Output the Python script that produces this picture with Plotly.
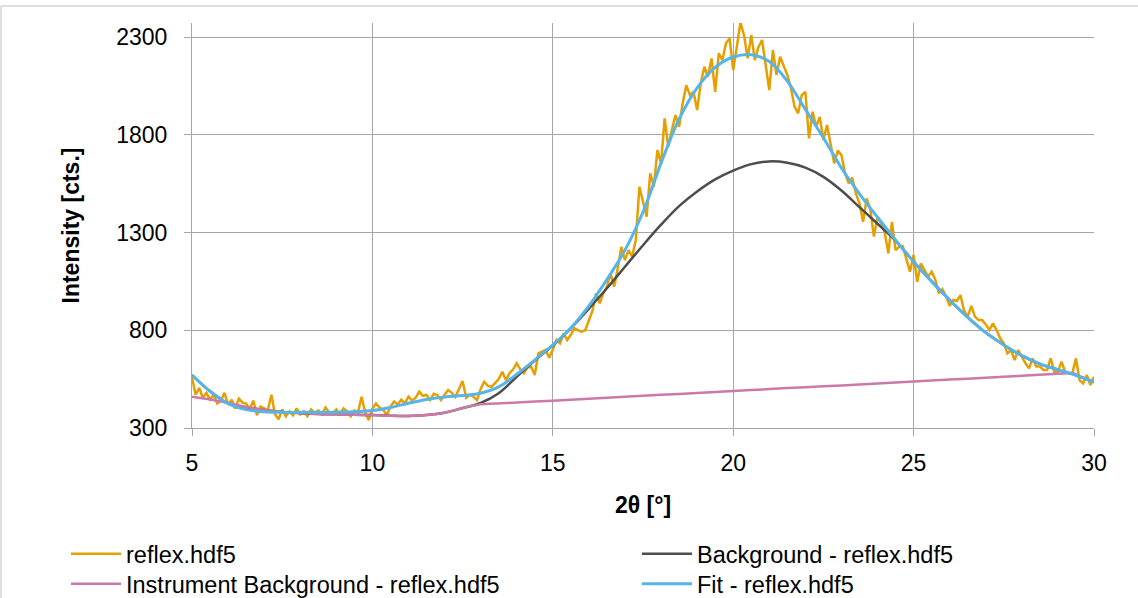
import plotly.graph_objects as go

# ---------------- data ----------------
THETA_START = 5.0
THETA_STEP = 0.1

reflex_counts = [
    560, 470, 505, 455, 480, 445, 470, 425, 440, 480,      # 5.0 - 5.9
    420, 445, 400, 450, 430, 425, 395, 440, 365, 410,      # 6
    400, 390, 470, 370, 345, 395, 360, 385, 365, 400,      # 7
    370, 385, 360, 395, 375, 390, 370, 405, 380, 375,      # 8
    395, 370, 400, 385, 360, 390, 380, 460, 380, 340,      # 9
    400, 425, 405, 392, 366, 410, 435, 420, 445, 426,      # 10
    460, 440, 455, 486, 465, 469, 443, 475, 469, 443,      # 11
    470, 494, 480, 460, 500, 540, 455, 470, 460, 443,      # 12
    500, 537, 515, 511, 530, 550, 588, 545, 580, 600,      # 13
    631, 600, 580, 610, 614, 571, 682, 690, 699, 660,      # 14
    700, 750, 733, 784, 750, 776, 810, 800, 793, 800,      # 15
    850, 900, 989, 938, 989, 1023, 1091, 1023, 1117, 1227, # 16
    1159, 1210, 1176, 1262, 1534, 1449, 1381, 1603, 1534, 1722,  # 17
    1654, 1884, 1739, 1824, 1901, 1841, 1961, 2054, 2003, 2020,  # 18
    1927, 2063, 2148, 2097, 2191, 2020, 2217, 2182, 2268, 2293,  # 19
    2131, 2250, 2375, 2310, 2191, 2310, 2182, 2250, 2285, 2157,  # 20
    2029, 2233, 2106, 2199, 2157, 2106, 2040, 1944, 1910, 2003,  # 21
    2020, 1782, 1918, 1841, 1892, 1773, 1850, 1756, 1654, 1720,  # 22
    1696, 1603, 1552, 1580, 1500, 1449, 1355, 1475, 1420, 1279,  # 23
    1381, 1347, 1300, 1194, 1355, 1210, 1227, 1230, 1160, 1100,  # 24
    1185, 1048, 1142, 1110, 1074, 1100, 1060, 989, 1010, 972,    # 25
    925, 955, 950, 980, 900, 869, 925, 870, 852, 852,            # 26
    830, 801, 835, 801, 759, 733, 682, 699, 648, 699,            # 27
    665, 631, 605, 656, 614, 614, 597, 597, 656, 588,            # 28
    588, 639, 588, 580, 580, 656, 545, 528, 571, 520,            # 29
    562,                                                         # 30.0
]
reflex_theta = [round(THETA_START + i * THETA_STEP, 1) for i in range(len(reflex_counts))]

curve_theta = [5.0, 5.5, 6.0, 6.5, 7.0, 7.5, 8.0, 8.5, 9.0, 9.5,
               10.0, 10.5, 11.0, 11.5, 12.0, 12.5, 13.0, 13.5, 14.0, 14.5,
               15.0, 15.5, 16.0, 16.5, 17.0, 17.5, 18.0, 18.5, 19.0, 19.5,
               20.0, 20.5, 21.0, 21.5, 22.0, 22.5, 23.0, 23.5, 24.0, 24.5,
               25.0, 25.5, 26.0, 26.5, 27.0, 27.5, 28.0, 28.5, 29.0, 29.5, 30.0]

fit_counts = [571, 488, 425, 394, 383, 380, 380, 380, 381, 383,
              389, 405, 427, 446, 459, 466, 478, 510, 575, 648,
              725, 812, 925, 1060, 1210, 1405, 1655, 1880, 2040, 2145,
              2198, 2210, 2175, 2075, 1930, 1785, 1630, 1498, 1378, 1262,
              1151, 1050, 955, 866, 788, 725, 670, 628, 598, 570, 535]

background_counts = [571, 488, 426, 406, 392, 382, 376, 372, 370, 368,
                     366, 363, 362, 366, 378, 402, 428, 478, 562, 645,
                     722, 810, 910, 1015, 1125, 1235, 1340, 1435, 1510, 1572,
                     1617, 1650, 1664, 1657, 1632, 1585, 1515, 1430, 1345, 1258,
                     1151, 1050, 955, 866, 788, 725, 670, 628, 598, 570, 535]

instr_theta = [5.0, 5.5, 6.0, 6.5, 7.0, 7.5, 8.0, 8.5, 9.0, 9.5,
               10.0, 10.5, 11.0, 11.5, 12.0, 12.5, 13.0, 14.0, 15.0, 16.0,
               17.0, 18.0, 19.0, 20.0, 21.0, 22.0, 23.0, 24.0, 25.0, 26.0,
               27.0, 28.0, 29.0, 29.4, 29.7, 30.0]
instr_counts = [460, 446, 428, 408, 392, 382, 376, 372, 370, 368,
                366, 363, 362, 366, 378, 402, 421, 430, 440, 450,
                460, 470, 479, 489, 499, 509, 518, 528, 538, 548,
                557, 567, 577, 581, 556, 536]

y_ticks = [300, 800, 1300, 1800, 2300]
x_ticks = [5, 10, 15, 20, 25, 30]

# ---------------- figure ----------------
FONT = "Liberation Sans, Arial, sans-serif"
GRID = "#a6a6a6"

fig = go.Figure()
fig.add_trace(go.Scatter(x=reflex_theta, y=reflex_counts, mode="lines",
                         name="reflex.hdf5", legend="legend",
                         line=dict(color="#E69F00", width=2.5)))
fig.add_trace(go.Scatter(x=curve_theta, y=background_counts, mode="lines",
                         name="Background - reflex.hdf5", legend="legend2",
                         line=dict(color="#4D4D4D", width=2.5, shape="spline", smoothing=1.0)))
fig.add_trace(go.Scatter(x=instr_theta, y=instr_counts, mode="lines",
                         name="Instrument Background - reflex.hdf5", legend="legend3",
                         line=dict(color="#CC79A7", width=2.5, shape="spline", smoothing=0.6)))
fig.add_trace(go.Scatter(x=curve_theta, y=fit_counts, mode="lines",
                         name="Fit - reflex.hdf5", legend="legend4",
                         line=dict(color="#56B4E9", width=3, shape="spline", smoothing=1.0)))

legend_common = dict(orientation="v", yanchor="middle", xanchor="left",
                     itemwidth=50, traceorder="normal", tracegroupgap=0,
                     font=dict(size=23.5, family=FONT),
                     bgcolor="rgba(0,0,0,0)")

PLOT_L, PLOT_W, PLOT_B, PLOT_H = 192, 902, 428, 405
COL1_PX, COL2_PX = 66, 637
ROW1_PX, ROW2_PX = 554, 584


def lx(px):
    return (px - PLOT_L) / PLOT_W


def ly(py):
    return (PLOT_B - py) / PLOT_H


fig.update_layout(
    width=1138, height=598,
    margin=dict(l=192, r=44, t=23, b=170, autoexpand=False),
    paper_bgcolor="white", plot_bgcolor="white",
    font=dict(family=FONT, size=23, color="#000000"),
    showlegend=True,
    legend=dict(x=lx(COL1_PX), y=ly(ROW1_PX), **legend_common),
    legend2=dict(x=lx(COL2_PX), y=ly(ROW1_PX), **legend_common),
    legend3=dict(x=lx(COL1_PX), y=ly(ROW2_PX), **legend_common),
    legend4=dict(x=lx(COL2_PX), y=ly(ROW2_PX), **legend_common),
    xaxis=dict(range=[5, 30], tickvals=x_ticks, ticktext=[str(v) for v in x_ticks],
               showgrid=True, gridcolor=GRID, gridwidth=1,
               showline=True, linecolor=GRID, linewidth=1,
               ticks="outside", ticklen=7, tickcolor=GRID, tickwidth=1,
               zeroline=False, tickfont=dict(size=23), ticklabelstandoff=7,
               title=dict(text="<b>2θ [°]</b>", font=dict(size=23), standoff=22)),
    yaxis=dict(range=[300, 2372], tickvals=y_ticks, ticktext=[str(v) for v in y_ticks],
               showgrid=True, gridcolor=GRID, gridwidth=1,
               showline=True, linecolor=GRID, linewidth=1,
               ticks="outside", ticklen=7, tickcolor=GRID, tickwidth=1,
               zeroline=False, tickfont=dict(size=23), ticklabelstandoff=12,
               title=dict(text="<b>Intensity [cts.]</b>", font=dict(size=23), standoff=30)),
)

# chart-area border (cropped outer frame)
fig.add_shape(type="line", xref="paper", yref="paper",
              x0=lx(1), x1=1.06, y0=ly(6), y1=ly(6),
              line=dict(color="#bfbfbf", width=1))
fig.add_shape(type="line", xref="paper", yref="paper",
              x0=lx(1), x1=lx(1), y0=ly(6), y1=-1.0,
              line=dict(color="#bfbfbf", width=1))

fig.write_html("out.html", config={"displayModeBar": False},
               post_script="document.body.style.margin='0';")
